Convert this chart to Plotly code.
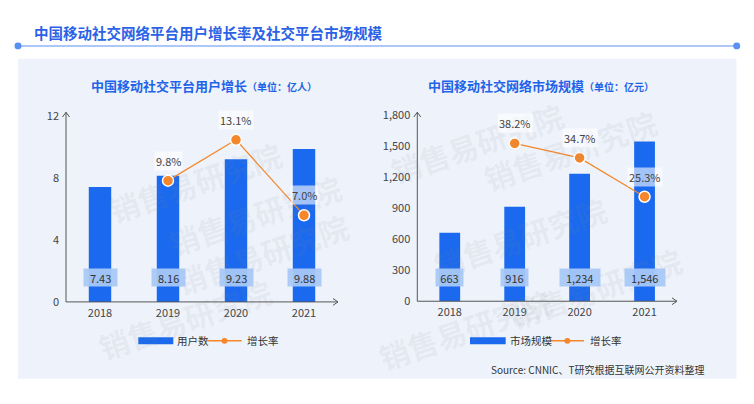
import plotly.graph_objects as go

# ---------------- data ----------------
years = ["2018", "2019", "2020", "2021"]
users = [7.43, 8.16, 9.23, 9.88]                 # 亿人
user_growth = [None, 9.8, 13.1, 7.0]             # %
market = [663, 916, 1234, 1546]                  # 亿元
market_growth = [None, 38.2, 34.7, 25.3]         # %
left_ticks = [0, 4, 8, 12]
right_ticks = [0, 300, 600, 900, 1200, 1500, 1800]

title_text = "中国移动社交网络平台用户增长率及社交平台市场规模"
sub_left = "中国移动社交平台用户增长"
sub_left_unit = "（单位：亿人）"
sub_right = "中国移动社交网络市场规模"
sub_right_unit = "（单位：亿元）"
legend_left = ["用户数", "增长率"]
legend_right = ["市场规模", "增长率"]
source_text = "Source: CNNIC、T研究根据互联网公开资料整理"
watermark = "销售易研究院"

# ---------------- style ----------------
W, H = 754, 404
FONT = "Noto Sans CJK SC"
BLUE = "#1a69ee"
ORANGE = "#f5862a"
TXT = "#444444"
AXIS = "#555555"
PANEL = "#eef3fb"
VALUE_BG = "rgba(168,200,247,0.95)"
LABEL_BG = "rgba(255,255,255,0.6)"


def fx(px):
    return px / W


def fy(py):
    return 1 - py / H


fig = go.Figure()

# left chart
fig.add_trace(go.Bar(x=years, y=users, xaxis="x", yaxis="y", width=0.33,
                     marker=dict(color=BLUE, line=dict(width=0)), showlegend=False))
fig.add_trace(go.Scatter(x=years, y=user_growth, xaxis="x", yaxis="y2",
                         mode="lines+markers", line=dict(color=ORANGE, width=1.2),
                         marker=dict(size=11, color=ORANGE, line=dict(color="white", width=1.5)),
                         showlegend=False))
# right chart
fig.add_trace(go.Bar(x=years, y=market, xaxis="x2", yaxis="y3", width=0.32,
                     marker=dict(color=BLUE, line=dict(width=0)), showlegend=False))
fig.add_trace(go.Scatter(x=years, y=market_growth, xaxis="x2", yaxis="y4",
                         mode="lines+markers", line=dict(color=ORANGE, width=1.2),
                         marker=dict(size=11, color=ORANGE, line=dict(color="white", width=1.5)),
                         showlegend=False))

xcommon = dict(type="category", range=[-0.5, 3.5], showgrid=False, zeroline=False,
               showline=False, ticks="", tickfont=dict(size=11, color=TXT, family=FONT),
               ticklabelstandoff=3, fixedrange=True)
ycommon = dict(showgrid=False, zeroline=False, showline=False, ticks="",
               tickfont=dict(size=11, color=TXT, family=FONT), ticklabelstandoff=6,
               fixedrange=True)

L_X0, L_X1, L_Y0, L_Y1 = 66, 338, 305, 111.7
R_X0, R_X1, R_Y0, R_Y1 = 417.3, 677, 304.3, 110.7

fig.update_layout(
    width=W, height=H, margin=dict(l=0, r=0, t=0, b=0),
    paper_bgcolor="white", plot_bgcolor="rgba(0,0,0,0)",
    font=dict(family=FONT, color=TXT),
    bargap=0.2,
    xaxis=dict(domain=[fx(L_X0), fx(L_X1)], anchor="y", **xcommon),
    yaxis=dict(domain=[fy(L_Y0), fy(L_Y1)], anchor="x", range=[0, 12],
               tickvals=left_ticks, **ycommon),
    yaxis2=dict(overlaying="y", anchor="x", range=[0, 15], visible=False, fixedrange=True),
    xaxis2=dict(domain=[fx(R_X0), fx(R_X1)], anchor="y3", **xcommon),
    yaxis3=dict(domain=[fy(R_Y0), fy(R_Y1)], anchor="x2", range=[0, 1800],
                tickvals=right_ticks, tickformat=",", **ycommon),
    yaxis4=dict(overlaying="y3", anchor="x2", range=[0, 45], visible=False, fixedrange=True),
)

shapes = []
annotations = []

# panel background
shapes.append(dict(type="rect", xref="paper", yref="paper", layer="below",
                   x0=fx(18), x1=fx(736.5), y0=fy(385), y1=fy(51.7),
                   fillcolor=PANEL, line=dict(width=0)))

# title underline with end dots
shapes.append(dict(type="line", xref="paper", yref="paper",
                   x0=fx(18), x1=fx(736.7), y0=fy(38.5), y1=fy(38.5),
                   line=dict(color="#93b5f7", width=1.5)))
for cx in (18, 736.7):
    shapes.append(dict(type="circle", xref="paper", yref="paper",
                       x0=fx(cx - 3.5), x1=fx(cx + 3.5), y0=fy(38.5 + 3.5), y1=fy(38.5 - 3.5),
                       fillcolor="#5b90f3", line=dict(width=0)))

# axes with arrow heads
for (x0, x1, y0, ytop) in [(L_X0, L_X1, L_Y0, 107.5), (R_X0, R_X1, R_Y0, 107.5)]:
    shapes.append(dict(type="line", xref="paper", yref="paper",
                       x0=fx(x0), x1=fx(x0), y0=fy(y0), y1=fy(ytop),
                       line=dict(color=AXIS, width=1)))
    shapes.append(dict(type="line", xref="paper", yref="paper",
                       x0=fx(x0), x1=fx(x1), y0=fy(y0), y1=fy(y0),
                       line=dict(color=AXIS, width=1)))
    shapes.append(dict(type="path", xref="paper", yref="paper",
                       path=f"M {fx(x0-3.5)},{fy(ytop+5)} L {fx(x0)},{fy(ytop)} L {fx(x0+3.5)},{fy(ytop+5)}",
                       line=dict(color=AXIS, width=1)))
    shapes.append(dict(type="path", xref="paper", yref="paper",
                       path=f"M {fx(x1-5)},{fy(y0-3.5)} L {fx(x1)},{fy(y0)} L {fx(x1-5)},{fy(y0+3.5)}",
                       line=dict(color=AXIS, width=1)))

# watermarks (kept inside the page)
wm_positions = [(160, 215), (262, 310), (100, 125), (477, 140), (615, 237),
                (665, 92), (90, 378), (560, 388), (690, 345)]
for (wx, wy) in wm_positions:
    annotations.append(dict(text=f"<b>{watermark}</b>", xref="paper", yref="paper",
                            x=fx(wx), y=fy(wy), showarrow=False, textangle=-19,
                            font=dict(size=30, color="rgba(140,140,150,0.10)", family=FONT)))

# main title
annotations.append(dict(text=f"<b>{title_text}</b>", xref="paper", yref="paper",
                        x=fx(32), y=fy(24), xanchor="left", yanchor="middle", showarrow=False,
                        font=dict(size=14.5, color="#2b62e6", family=FONT)))

# subtitles
for (cx, main, unit) in [(204, sub_left, sub_left_unit), (541, sub_right, sub_right_unit)]:
    annotations.append(dict(text=f"<b>{main}<span style='font-size:10px'>{unit}</span></b>",
                            xref="paper", yref="paper", x=fx(cx), y=fy(80),
                            xanchor="center", yanchor="middle", showarrow=False,
                            font=dict(size=13, color="#1f64e8", family=FONT)))

# bar value labels (category axes take the category index as position)
for (xa, vals, ypix, fmt) in [("x", users, 289.3, "{:.2f}"), ("x2", market, 289.3, "{:,}")]:
    for i, v in enumerate(vals):
        t = fmt.format(v)
        annotations.append(dict(text=t, xref=xa, yref="paper", x=i, y=fy(ypix),
                                showarrow=False, bgcolor=VALUE_BG, borderpad=0,
                                width=len(t) * 6.3 + 8, height=17,
                                font=dict(size=11, color="#333333", family=FONT)))

# growth labels
for (xa, ya, vals) in [("x", "y2", user_growth), ("x2", "y4", market_growth)]:
    for i, v in enumerate(vals):
        if v is None:
            continue
        annotations.append(dict(text=f"{v:.1f}%", xref=xa, yref=ya, x=i, y=v, yshift=20,
                                showarrow=False, bgcolor=LABEL_BG, borderpad=1,
                                font=dict(size=11, color=TXT, family=FONT)))


def legend(rx0, rx1, t1x, lx0, lx1, t2x, labels, ly=345.5):
    shapes.append(dict(type="rect", xref="paper", yref="paper",
                       x0=fx(rx0), x1=fx(rx1), y0=fy(ly + 3.7), y1=fy(ly - 3.7),
                       fillcolor=BLUE, line=dict(width=0)))
    annotations.append(dict(text=labels[0], xref="paper", yref="paper", x=fx(t1x), y=fy(ly),
                            xanchor="left", yanchor="middle", showarrow=False,
                            font=dict(size=10.5, color="#333333", family=FONT)))
    shapes.append(dict(type="line", xref="paper", yref="paper",
                       x0=fx(lx0), x1=fx(lx1), y0=fy(ly), y1=fy(ly),
                       line=dict(color=ORANGE, width=1.5)))
    cx = (lx0 + lx1) / 2
    shapes.append(dict(type="circle", xref="paper", yref="paper",
                       x0=fx(cx - 3), x1=fx(cx + 3), y0=fy(ly + 3), y1=fy(ly - 3),
                       fillcolor=ORANGE, line=dict(width=0)))
    annotations.append(dict(text=labels[1], xref="paper", yref="paper", x=fx(t2x), y=fy(ly),
                            xanchor="left", yanchor="middle", showarrow=False,
                            font=dict(size=10.5, color="#333333", family=FONT)))


legend(138.3, 173.3, 175, 207.3, 241.7, 244.5, legend_left)
legend(470, 505.7, 507.5, 550.7, 584, 587.5, legend_right)

# source
annotations.append(dict(text=source_text, xref="paper", yref="paper", x=fx(705.5), y=fy(375),
                        xanchor="right", yanchor="middle", showarrow=False,
                        font=dict(size=10, color="#333333", family=FONT)))

fig.update_layout(shapes=shapes, annotations=annotations)
fig.write_html("out.html", config={"displayModeBar": False},
               post_script="document.body.style.margin='0';")
